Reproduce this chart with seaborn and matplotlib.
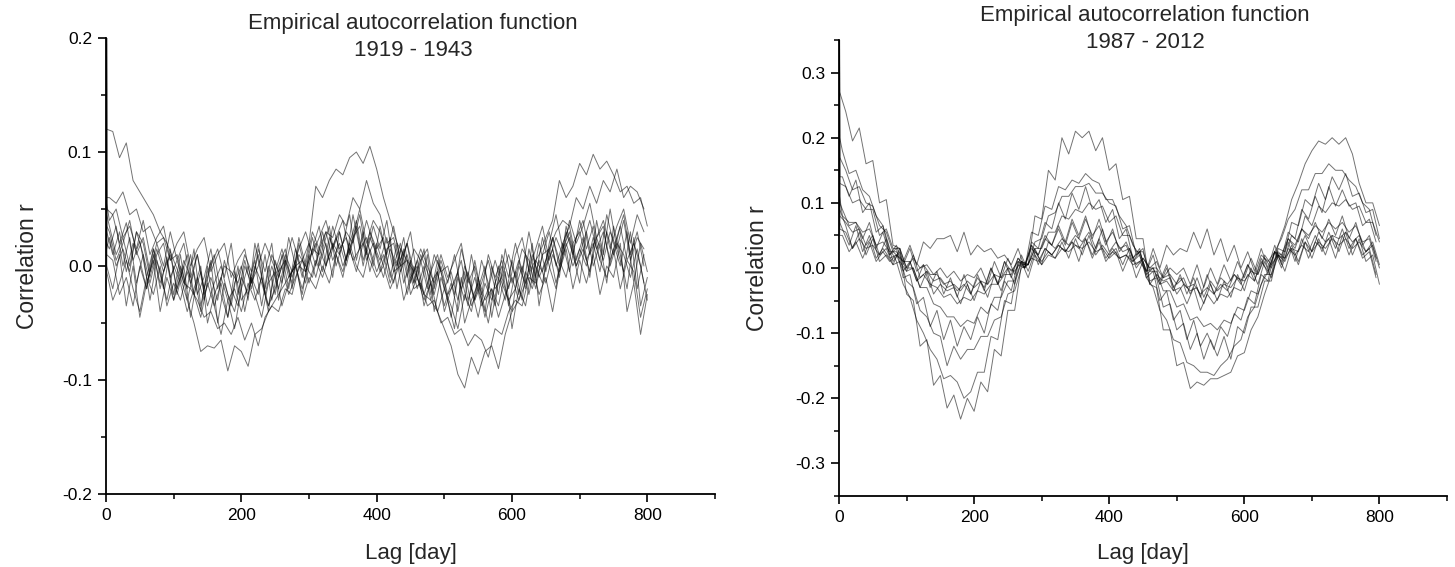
import numpy as np
import pandas as pd
import matplotlib
matplotlib.use("Agg")
import matplotlib.pyplot as plt
import seaborn as sns
from matplotlib.ticker import MultipleLocator, FuncFormatter

# lag grids: lag 0, lag 1, then one reading every 10 days.
# Readings were taken on two staggered grids (curves alternate between them).
LAGS_A = [0, 1] + list(range(10, 801, 10))
LAGS_B = [0, 1] + list(range(5, 800, 10))
R_LAG0 = 1.0  # autocorrelation at lag 0 (clipped by the axes)

# Curves, in units of 0.001.
# First entry = lag 1, then one value per grid lag (rows of 100 days).
acf_1919 = {
    "L01": [120,
            118, 95, 108, 75, 65, 55, 45, 30, 20, 5,
            -10, -30, -50, -75, -70, -72, -65, -92, -70, -75,
            -88, -60, -55, -40, -30, -20, -10, 0, 5, 20,
            70, 60, 75, 85, 80, 95, 100, 90, 105, 85,
            60, 40, 20, 10, 0, -10, -25, -30, -40, -55,
            -70, -95, -107, -80, -95, -75, -70, -90, -60, -40,
            -30, -15, 0, 10, 25, 40, 75, 60, 70, 90,
            80, 98, 85, 92, 80, 65, 70, 55, 60, 35],
    "L02": [60,
            60, 55, 65, 45, 50, 30, 35, 20, 25, 5,
            10, -15, -20, -30, -45, -40, -55, -50, -60, -45,
            -65, -50, -70, -45, -35, -40, -20, -25, 0, -5,
            15, 10, 30, 25, 45, 35, 60, 50, 75, 55,
            45, 20, 25, 0, 5, -20, -15, -35, -30, -50,
            -45, -60, -55, -70, -60, -65, -80, -55, -60, -40,
            -30, -35, -10, -15, 10, 15, 30, 40, 35, 60,
            50, 70, 55, 75, 65, 85, 60, 70, 65, 50],
    "L03": [50,
            45, 20, 38, 5, 22, -10, 15, -20, 8, -25,
            10, -30, -5, -40, 0, -35, -15, -45, -5, -30,
            -20, 5, -35, 0, -25, 10, -20, 15, -10, 20,
            0, 30, 5, 25, 40, 10, 35, 0, 30, 15,
            25, -10, 20, -15, 5, -20, 0, -30, -5, -35,
            -15, -40, -5, -35, -20, 0, -45, -10, -30, 5,
            -25, 10, -15, 20, -5, 25, 0, 30, 10, 40,
            15, 35, 5, 45, 20, 0, 30, -15, 20, -5],
    "L04": [20,
            15, 35, 0, 25, -15, 10, -30, 5, -20, 15,
            -25, 0, -45, -10, -30, 5, -50, -15, -35, 0,
            -40, -10, -25, 10, -30, 0, 15, -20, 20, -5,
            25, 0, 20, -10, 30, 5, 45, 15, 25, 0,
            35, 5, -15, 15, -25, 0, -20, 10, -40, -10,
            -30, -55, -10, -35, 5, -25, -50, -15, 0, -35,
            -5, -30, 15, -10, 25, 0, -20, 20, 35, 5,
            25, -10, 40, 10, 50, 15, -5, 30, -20, 10],
    "L05": [0,
            -20, 10, -35, 0, -45, -15, 5, -40, -10, -30,
            0, -20, 15, -35, -5, 10, -25, -45, -15, 0,
            -30, 20, -10, -40, 5, -15, 25, 0, -25, 10,
            -10, 15, 35, 0, 20, 45, 5, 30, -5, 20,
            0, 25, -20, 10, 30, -10, 15, -25, 5, -15,
            -45, -10, -30, 10, -20, -40, 0, -25, 15, -15,
            5, -20, 20, -35, 0, 15, -10, 35, 10, -15,
            30, 0, 20, -15, 35, 10, -20, 25, -35, -10],
    "L06": [35,
            30, 5, 20, 40, 10, 25, -5, 20, 0, 30,
            5, 20, -15, 10, -20, 0, 15, -10, 20, -25,
            5, -20, 15, -5, 20, -30, 0, 25, 5, -15,
            15, 35, 0, 20, 10, 30, 20, 45, 10, 35,
            15, 40, 0, 20, -10, 15, 5, -20, 10, -5,
            0, -25, 15, -10, -30, 5, -15, -35, 10, -10,
            20, -5, 30, 0, -15, 20, 45, 15, 30, 0,
            20, 40, 15, 30, 5, 25, 45, 10, 30, 0],
    "L07": [10,
            5, -25, -10, -35, 0, -20, 15, -5, -30, 0,
            -15, -40, -20, 0, -50, -25, -10, -30, -55, -20,
            0, -25, -45, -15, -5, -35, -15, 5, -30, -10,
            -20, 0, -15, 10, -5, 20, 0, -10, 15, -5,
            10, -15, 5, -30, -10, 0, -35, -15, -5, -40,
            -20, -5, -50, -30, -15, -45, -20, -35, -5, -55,
            -20, -35, 0, -25, -10, -40, -5, 15, -20, 5,
            -15, 10, -25, 0, -10, 20, -40, -15, -60, -25],
    "L08": [55,
            40, 50, 25, 35, 15, 40, 10, 25, 35, 5,
            20, 30, 0, 15, 25, -5, 10, 20, -10, 5,
            15, -15, 0, 20, 5, -10, 10, -5, 15, 30,
            10, 25, 40, 15, 30, 5, 25, 50, 20, 40,
            30, 10, 35, 5, 20, -5, 15, 0, -15, 10,
            -10, 5, 20, -15, 0, -25, 10, -10, 5, -20,
            10, 25, -5, 15, 35, 5, 25, 10, 40, 20,
            35, 55, 25, 40, 15, 35, 50, 20, 45, 30],
    "L09": [-5,
            -30, -15, 5, -20, -40, -10, -25, 0, -35, -15,
            -30, -5, -25, -45, -15, -35, -60, -30, -20, -40,
            -15, -30, -10, -35, -20, 0, -25, -10, 5, -15,
            5, -10, 10, 25, 0, 15, -5, 20, 5, -10,
            0, -20, -5, 15, -25, -10, -30, -15, -40, -20,
            -35, -55, -25, -40, -10, -30, -20, -45, -25, -10,
            -30, -5, -20, 5, -15, 10, -5, 20, 0, 15,
            0, 25, 5, -10, 15, -20, 5, -5, -45, -20],
    "L10": [15,
            25, 0, 15, -5, 30, 10, -15, 10, 20, -10,
            5, -15, 10, -25, -10, 15, -20, 0, -5, -15,
            10, -5, 20, -20, 10, -5, 5, -15, 25, 0,
            30, 15, 0, 35, 15, 25, 5, 15, 40, 20,
            -5, 15, 20, -5, 10, -15, 5, 15, -20, 5,
            -15, 10, -20, -5, -30, -15, 5, -20, -10, 10,
            -10, 15, 5, -20, 10, 30, 0, 20, -5, 25,
            40, 10, 25, 5, 30, 15, 40, 5, 25, 15],
    "L11": [30,
            10, 30, -5, 20, 5, -20, 10, -15, 5, -30,
            -10, 10, -25, -5, -35, -15, 0, -25, -40, -10,
            -25, 0, -15, -35, -5, 15, -10, 0, -20, 5,
            20, -5, 25, 10, -10, 20, 40, 5, 25, 10,
            -10, 15, 0, 25, -15, 5, -25, -5, 10, -20,
            -5, -30, 0, -20, -45, -15, -30, 0, -20, -40,
            0, -15, 10, -10, 5, 25, 5, -10, 20, 30,
            5, 20, -5, 30, 10, 35, 5, 20, 0, -30],
    "L12": [45,
            35, 10, 25, 0, 30, 20, -10, 15, -5, 10,
            -20, 5, -10, 10, -25, -10, -30, 5, -20, -35,
            0, -15, 10, -25, 0, -20, 5, -10, 10, 0,
            -10, 15, 30, 5, 20, 0, 25, 35, 5, 20,
            5, 25, -5, 0, 20, -15, 10, -5, -25, 0,
            -25, -15, 5, -30, -10, -35, -20, 5, -15, -30,
            -20, 0, -25, 5, -5, 15, -15, 10, 25, 0,
            15, -5, 25, 35, 0, 20, 10, -10, 15, -15],
}

acf_1987 = {
    "R01": [270,
            240, 195, 215, 160, 165, 100, 105, 35, 30, -40,
            -50, -120, -110, -180, -165, -215, -195, -232, -200, -220,
            -175, -190, -125, -135, -65, -65, 5, 5, 80, 75,
            150, 135, 200, 175, 210, 200, 210, 180, 200, 150,
            160, 105, 110, 45, 45, -25, -30, -95, -95, -150,
            -145, -185, -175, -180, -170, -170, -165, -160, -135, -130,
            -95, -75, -40, -10, 35, 65, 105, 130, 160, 180,
            195, 190, 200, 190, 200, 175, 130, 100, 100, 65],
    "R02": [200,
            180, 145, 150, 120, 110, 80, 65, 30, 10, -25,
            -45, -80, -100, -125, -140, -170, -165, -175, -200, -190,
            -160, -160, -105, -110, -50, -55, 5, 0, 55, 50,
            95, 90, 125, 120, 135, 130, 145, 135, 130, 105,
            105, 80, 65, 35, 20, -15, -30, -65, -80, -110,
            -115, -145, -150, -160, -160, -165, -150, -140, -120, -110,
            -75, -60, -25, -5, 25, 45, 75, 90, 120, 120,
            145, 145, 160, 150, 150, 135, 125, 100, 90, 50],
    "R03": [170,
            150, 120, 125, 100, 95, 65, 55, 25, 15, -20,
            -30, -65, -75, -100, -105, -150, -120, -140, -125, -125,
            -105, -105, -80, -75, -40, -35, 0, 5, 40, 45,
            80, 85, 110, 110, 125, 125, 130, 115, 115, 100,
            95, 60, 65, 20, 30, -20, -15, -60, -55, -95,
            -85, -125, -100, -140, -110, -135, -105, -140, -90, -100,
            -60, -60, -20, -20, 30, 25, 70, 65, 105, 95,
            130, 105, 140, 120, 145, 110, 115, 85, 90, 45],
    "R04": [140,
            140, 110, 135, 85, 100, 55, 65, 20, 30, -15,
            -10, -55, -45, -90, -65, -110, -80, -120, -90, -110,
            -75, -100, -55, -65, -20, -35, 10, 0, 40, 30,
            70, 60, 100, 75, 115, 90, 125, 90, 105, 70,
            90, 45, 60, 15, 30, -15, -5, -50, -35, -80,
            -65, -110, -80, -120, -100, -125, -90, -105, -70, -80,
            -45, -55, -10, -20, 25, 15, 55, 45, 90, 75,
            110, 85, 125, 95, 120, 95, 100, 65, 75, 40],
    "R05": [130,
            125, 100, 105, 90, 90, 50, 60, 30, 30, 0,
            0, -30, -30, -55, -60, -75, -75, -90, -80, -85,
            -60, -70, -45, -45, -20, -20, 10, 5, 30, 30,
            55, 55, 80, 75, 90, 85, 100, 90, 95, 70,
            80, 50, 50, 25, 25, -5, -5, -35, -35, -60,
            -55, -80, -75, -90, -85, -95, -80, -85, -60, -65,
            -35, -40, -10, -10, 20, 15, 50, 40, 80, 65,
            95, 85, 100, 95, 105, 90, 95, 70, 70, 40],
    "R06": [100,
            90, 65, 70, 55, 60, 35, 40, 25, 25, 10,
            10, -20, -10, -25, -30, -45, -40, -55, -45, -50,
            -35, -40, -25, -25, -10, -10, 15, 5, 35, 20,
            50, 35, 65, 40, 75, 50, 80, 45, 75, 40,
            55, 30, 35, 10, 20, -10, 0, -25, -20, -35,
            -30, -55, -30, -65, -40, -55, -40, -45, -30, -35,
            -10, -20, 10, -5, 25, 10, 45, 30, 60, 45,
            70, 45, 75, 50, 80, 45, 70, 35, 50, 15],
    "R07": [80,
            70, 55, 60, 35, 50, 20, 45, 10, 25, -5,
            20, -15, -5, -20, -15, -30, -25, -35, -20, -30,
            -20, -25, -10, -15, 0, -5, 10, 5, 30, 5,
            40, 30, 45, 35, 50, 40, 55, 30, 60, 25,
            40, 25, 30, 5, 15, 0, 0, -15, -10, -25,
            -15, -40, -15, -45, -20, -35, -25, -30, -15, -20,
            -5, -10, 15, 0, 25, 15, 30, 25, 50, 25,
            55, 40, 50, 45, 55, 40, 50, 25, 40, 5],
    "R08": [70,
            60, 35, 65, 25, 50, 15, 30, 15, 20, -5,
            10, -20, 5, -30, -5, -40, -15, -45, -10, -40,
            -15, -30, 0, -25, 10, -15, 15, 0, 15, 10,
            30, 20, 35, 25, 40, 30, 45, 20, 45, 15,
            30, 15, 20, 5, 10, -5, 0, -25, 0, -35,
            -10, -40, -15, -45, -10, -40, -15, -25, -10, -20,
            5, -20, 15, -10, 25, 0, 30, 20, 35, 25,
            50, 25, 55, 30, 60, 30, 45, 20, 30, -10],
    "R09": [60,
            55, 30, 45, 30, 35, 20, 30, 5, 30, 0,
            15, 0, 5, -10, 0, -15, -5, -20, -10, -15,
            0, -25, 10, -15, 15, -10, 20, -5, 25, 10,
            25, 15, 40, 15, 45, 20, 50, 20, 35, 20,
            30, 5, 30, 0, 15, 0, 10, -15, 0, -10,
            0, -25, 5, -30, 0, -25, 5, -20, 10, -15,
            15, -10, 20, 5, 20, 10, 35, 10, 40, 25,
            40, 30, 45, 35, 45, 30, 40, 25, 35, 0],
    "R10": [50,
            50, 25, 40, 15, 40, 10, 25, 10, 20, 10,
            35, 5, 40, 30, 45, 45, 50, 25, 55, 20,
            35, 25, 30, 15, 20, 5, 30, 0, 35, 5,
            30, 20, 35, 25, 40, 10, 45, 15, 40, 10,
            25, 15, 20, 10, 25, -5, 30, 0, 35, 20,
            30, 25, 55, 30, 60, 20, 45, 10, 35, 0,
            25, -5, 30, 0, 35, 5, 40, 10, 45, 15,
            40, 30, 45, 15, 50, 20, 45, 15, 25, -15],
    "R11": [90,
            65, 30, 55, 20, 45, 10, 20, 5, 10, -5,
            0, -30, -5, -40, -25, -35, -30, -55, -25, -50,
            -20, -45, -10, -35, 0, -25, 10, -15, 20, 5,
            20, 15, 30, 25, 35, 30, 40, 25, 30, 15,
            25, -5, 20, -15, 10, -25, -10, -20, -15, -40,
            -25, -35, -30, -55, -25, -50, -20, -45, -10, -35,
            0, -25, 10, -15, 20, -5, 30, 5, 40, 15,
            45, 20, 50, 25, 55, 20, 45, 10, 20, -25],
    "R12": [110,
            80, 70, 70, 45, 70, 30, 55, 20, 35, 5,
            30, -5, 5, -10, -10, -25, -20, -35, -25, -40,
            -10, -35, 0, -25, 10, -5, 10, 5, 30, 20,
            45, 35, 60, 35, 70, 45, 75, 50, 65, 35,
            60, 25, 40, 15, 25, -5, 20, -20, 5, -30,
            -15, -30, -25, -40, -30, -40, -25, -35, -10, -25,
            5, -10, 20, 10, 25, 20, 45, 35, 60, 50,
            65, 55, 70, 60, 70, 55, 65, 40, 45, 10],
}

panels = [
    ("1919 - 1943", acf_1919, (-0.2, 0.2)),
    ("1987 - 2012", acf_1987, (-0.35, 0.35)),
]


def to_long(curves):
    frames = []
    for i, (name, vals) in enumerate(curves.items()):
        lags = LAGS_A if i % 2 == 0 else LAGS_B
        assert len(vals) == len(lags) - 1, name
        r = [R_LAG0] + [v / 1000 for v in vals]
        frames.append(pd.DataFrame({"lag": lags, "r": r, "curve": name}))
    return pd.concat(frames, ignore_index=True)


sns.set_style("ticks")
plt.rcParams["font.family"] = ["Liberation Sans", "DejaVu Sans"]
plt.rcParams["axes.unicode_minus"] = False

W, H = 1455, 567
fig = plt.figure(figsize=(W / 100, H / 100), dpi=100)

# axes boxes in pixels: left, top, right, bottom
boxes = [(106, 38, 715, 494), (839, 40, 1447, 496)]
title_pos = [(413, 23, 51), (1145, 15, 43)]
ylabel_x = [27, 757]

yfmt = FuncFormatter(lambda v, p: f"{round(v, 2) + 0.0:.1f}")

for (period, curves, ylim), (l, t, r, b), (tx, ty1, ty2), ylx in zip(
        panels, boxes, title_pos, ylabel_x):
    ax = fig.add_axes([l / W, 1 - b / H, (r - l) / W, (b - t) / H])
    df = to_long(curves)
    sns.lineplot(data=df, x="lag", y="r", units="curve", estimator=None,
                 color="black", linewidth=0.7, alpha=0.55, sort=False,
                 legend=False, ax=ax)

    ax.set_xlim(0, 900)
    ax.set_ylim(*ylim)
    ax.xaxis.set_major_locator(MultipleLocator(200))
    ax.xaxis.set_minor_locator(MultipleLocator(100))
    ax.yaxis.set_major_locator(MultipleLocator(0.1))
    ax.yaxis.set_minor_locator(MultipleLocator(0.05))
    ax.yaxis.set_major_formatter(yfmt)
    ax.set_xlabel("")
    ax.set_ylabel("")
    sns.despine(ax=ax)
    for side in ("left", "bottom"):
        ax.spines[side].set_linewidth(1.3)
        ax.spines[side].set_color("black")
    ax.tick_params(which="major", direction="out", length=6, width=1.2,
                   labelsize=12.5, colors="black", pad=4)
    ax.tick_params(which="minor", direction="out", length=3.5, width=1.1,
                   colors="black")

    fig.text(tx / W, 1 - ty1 / H, "Empirical autocorrelation function",
             ha="center", va="center", fontsize=16)
    fig.text(tx / W, 1 - ty2 / H, period, ha="center", va="center",
             fontsize=16)
    fig.text((l + r) / 2 / W, 1 - 553 / H, "Lag [day]",
             ha="center", va="center", fontsize=16)
    fig.text(ylx / W, 1 - (t + b) / 2 / H, "Correlation r", rotation=90,
             ha="center", va="center", fontsize=16.5)

fig.savefig("out.png", dpi=100)
